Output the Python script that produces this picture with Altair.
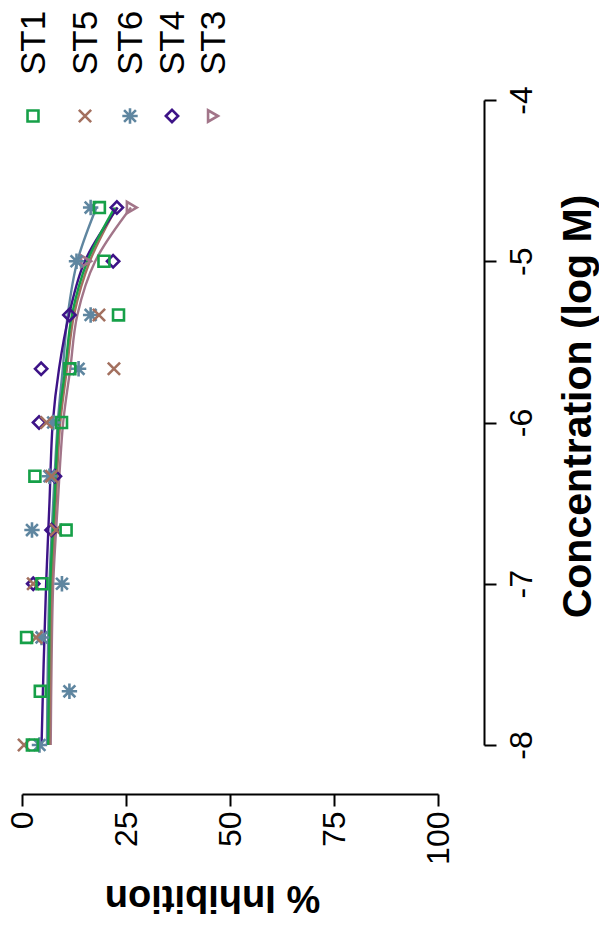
import altair as alt
import pandas as pd

# ---- data -------------------------------------------------------------
series = ["ST1", "ST5", "ST6", "ST4", "ST3"]

# log molar concentrations at which inhibition was measured
conc_levels = [-8.0, -7.667, -7.333, -7.0, -6.667, -6.333, -6.0, -5.667, -5.333, -5.0, -4.667]

# measured % inhibition per compound (None = no point shown)
st1_points = [2.5, 4.4, 1.1, 4.8, 10.6, 3.1, 9.5, 11.5, 23.2, 19.7, 18.6]
st5_points = [0.5, None, 3.4, 2.7, 8.2, 7.1, 5.9, 22.1, 18.5, None, None]
st6_points = [4.2, 11.4, 4.7, 9.6, 2.4, 6.6, 7.5, 13.6, 16.5, 13.1, 16.5]
st4_points = [None, None, None, 2.7, 7.1, 7.9, 4.1, 4.6, 11.4, 21.9, 22.8]
st3_points = [None, None, None, None, None, None, None, None, None, 15.4, 26.4]

# fitted dose-response curves, sampled along concentration
curve_conc = [-8.0, -7.5, -7.0, -6.5, -6.0, -5.667, -5.333, -5.0, -4.667]
st1_curve = [6.3, 6.5, 6.8, 7.8, 8.8, 10.4, 12.0, 15.7, 22.3]
st5_curve = [6.6, 6.8, 7.1, 8.1, 9.2, 10.8, 12.5, 16.3, 22.7]
st6_curve = [6.0, 6.2, 6.6, 7.5, 8.6, 9.8, 11.0, 13.3, 17.9]
st4_curve = [4.7, 5.2, 5.8, 6.6, 7.4, 8.9, 11.3, 15.1, 23.0]
st3_curve = [6.9, 7.1, 7.5, 8.6, 9.9, 11.6, 13.3, 17.6, 26.2]

points = {"ST1": st1_points, "ST5": st5_points, "ST6": st6_points,
          "ST4": st4_points, "ST3": st3_points}
curves = {"ST1": st1_curve, "ST5": st5_curve, "ST6": st6_curve,
          "ST4": st4_curve, "ST3": st3_curve}

# ---- styling ----------------------------------------------------------
FONT = "Liberation Sans"
colors = {"ST1": "#16a048", "ST5": "#a3705f", "ST6": "#5f86a0",
          "ST4": "#3d1387", "ST3": "#a27589"}
shapes = {"ST1": "square",
          "ST5": "M-1,-1L1,1M-1,1L1,-1",
          "ST6": "M-1,-1L1,1M-1,1L1,-1M0,-1.3L0,1.3M-1.3,0L1.3,0",
          "ST4": "diamond",
          "ST3": "triangle-right"}
sizes = {"ST1": 120, "ST5": 150, "ST6": 140, "ST4": 150, "ST3": 130}

line_order = ["ST6", "ST3", "ST5", "ST4", "ST1"]
point_order = ["ST3", "ST4", "ST6", "ST5", "ST1"]

# legend slot positions (pixels from the plot origin)
legend_sym_x = {"ST1": 11, "ST5": 63, "ST6": 108, "ST4": 150, "ST3": 191}
legend_sym_y = 16
legend_text_y = -25

X = alt.X(
    "inhibition:Q",
    scale=alt.Scale(domain=[0, 100], nice=False, zero=False),
    axis=alt.Axis(
        orient="bottom", offset=49, values=[0, 25, 50, 75, 100], grid=False,
        tickSize=12, tickWidth=2, tickColor="black",
        domainWidth=2, domainColor="black",
        labelAngle=270, labelAlign="right", labelBaseline="middle",
        labelFont=FONT, labelFontSize=32, labelColor="black", labelPadding=5,
        labelFlush=False, labelOverlap=False, labelBound=False,
        title="% Inhibition", titleFont=FONT, titleFontSize=38,
        titleFontWeight="bold", titleColor="black", titleAngle=180,
        titleAlign="center", titleBaseline="alphabetic", titleX=190, titleY=91,
    ),
)
Y = alt.Y(
    "conc:Q",
    scale=alt.Scale(domain=[-8, -4], nice=False, zero=False),
    axis=alt.Axis(
        orient="right", offset=46, values=[-8, -7, -6, -5, -4], grid=False,
        labelExpr="'' + datum.value",
        tickSize=12, tickWidth=2, tickColor="black",
        domainWidth=2, domainColor="black",
        labelAngle=270, labelAlign="center", labelBaseline="top",
        labelFont=FONT, labelFontSize=32, labelColor="black", labelPadding=10,
        labelFlush=False, labelOverlap=False, labelBound=False,
        title="Concentration (log M)", titleFont=FONT, titleFontSize=41,
        titleFontWeight="bold", titleColor="black", titleAngle=270,
        titleAlign="center", titleBaseline="alphabetic", titleX=106, titleY=306,
    ),
)

layers = []

# fitted curves
for s in line_order:
    df = pd.DataFrame({"conc": curve_conc, "inhibition": curves[s]})
    layers.append(
        alt.Chart(df).mark_line(color=colors[s], strokeWidth=2.4,
                                interpolate="catmull-rom")
        .encode(x=X, y=Y, order=alt.Order("conc:Q"))
    )

# measured points
for s in point_order:
    rows = [(c, v) for c, v in zip(conc_levels, points[s]) if v is not None]
    df = pd.DataFrame(rows, columns=["conc", "inhibition"])
    layers.append(
        alt.Chart(df).mark_point(shape=shapes[s], color=colors[s], filled=False,
                                 strokeWidth=2.6, size=sizes[s], opacity=1)
        .encode(x=X, y=Y)
    )

# legend: symbols with rotated labels above the plot
for s in series:
    one = pd.DataFrame({"series": [s]})
    layers.append(
        alt.Chart(one).mark_point(shape=shapes[s], color=colors[s], filled=False,
                                  strokeWidth=2.6, size=sizes[s], opacity=1)
        .encode(x=alt.value(legend_sym_x[s]), y=alt.value(legend_sym_y))
    )
    layers.append(
        alt.Chart(one).mark_text(angle=270, align="left", baseline="middle",
                                 font=FONT, fontSize=35, color="black")
        .encode(x=alt.value(legend_sym_x[s] + 1), y=alt.value(legend_text_y),
                text="series:N")
    )

chart = (
    alt.layer(*layers)
    .properties(
        width=416, height=645,
        autosize=alt.AutoSizeParams(type="none"),
        padding={"left": 22, "top": 100, "right": 161, "bottom": 192},
        background="white",
    )
    .configure_view(stroke=None)
)

chart.save("out.html", embed_options={"renderer": "svg", "actions": False})
